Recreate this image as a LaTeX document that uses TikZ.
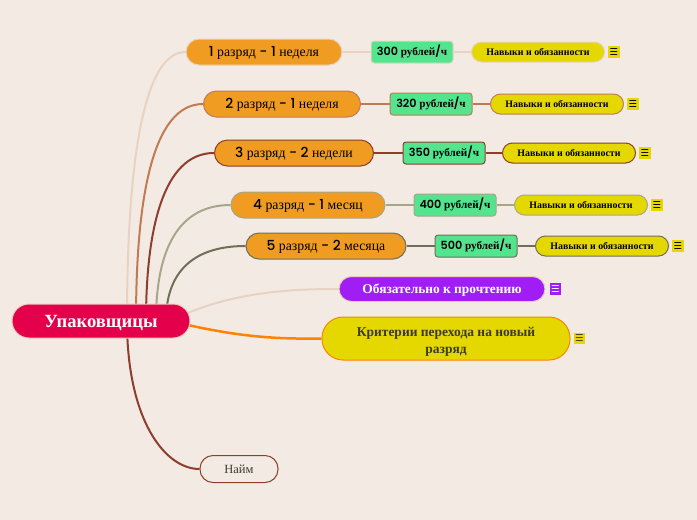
\documentclass[tikz,border=0pt]{standalone}
\usepackage{fontspec}
\setmainfont{Liberation Serif}
\newfontfamily\numfont{Poppins}[UprightFont={* Medium}, BoldFont={* SemiBold}]
\newfontfamily\symfont{DejaVu Sans}
\usetikzlibrary{positioning,backgrounds}

\definecolor{bgcream}{HTML}{F3EBE3}
\definecolor{rootred}{HTML}{E5004C}
\definecolor{roottan}{HTML}{E8CDBA}
\definecolor{lvorange}{HTML}{F09C22}
\definecolor{rategreen}{HTML}{52E58E}
\definecolor{dutyyellow}{HTML}{E5D800}
\definecolor{readpurple}{HTML}{A01EF5}
\definecolor{critorange}{HTML}{FF8200}
\definecolor{c1}{HTML}{E8D2C2}
\definecolor{c2}{HTML}{C27A55}
\definecolor{c3}{HTML}{8E3E2C}
\definecolor{c4}{HTML}{A8A68A}
\definecolor{c5}{HTML}{6E6F58}
\definecolor{darktext}{HTML}{3C3A30}

\begin{document}
\begin{tikzpicture}[x=1pt,y=-1pt,
  mid/.style={text height=#1, text depth=0pt},
  lvl/.style={draw=#1, line width=1pt, fill=lvorange, rounded corners=13pt, minimum height=26pt, inner sep=0pt, mid=8.3pt, font=\fontsize{13.8}{16}\selectfont},
  rate/.style={draw=#1, line width=1pt, fill=rategreen, rounded corners=3pt, minimum width=82pt, minimum height=22pt, inner sep=0pt, mid=7pt, font=\bfseries\fontsize{11.2}{13}\selectfont},
  duty/.style={draw=#1, line width=1pt, fill=dutyyellow, rounded corners=10pt, minimum width=133pt, minimum height=20pt, inner sep=0pt, mid=7.2pt, font=\bfseries\fontsize{9.9}{11}\selectfont},
  menu/.style={fill=#1, minimum size=11.5pt, inner sep=0pt, font=\symfont\fontsize{9.5}{9.5}\selectfont},
  branch/.style={draw=#1, line width=2pt},
  twig/.style={draw=#1, line width=1.5pt}]

% root
\node[fill=rootred, draw=roottan, line width=1pt, rounded corners=17pt, minimum width=178pt, minimum height=34pt, inner sep=0pt, mid=12pt, text=white, font=\bfseries\fontsize{18.6}{21}\selectfont] (r) at (101,321) {Упаковщицы};

% levels
\node[lvl=c1, minimum width=156pt] (1) at (264,52) {{\numfont 1} разряд {\numfont - 1} неделя};
\node[lvl=c2, minimum width=157pt] (2) at (282,104) {{\numfont 2} разряд {\numfont - 1} неделя};
\node[lvl=c3, minimum width=159pt] (3) at (294,153) {{\numfont 3} разряд {\numfont - 2} недели};
\node[lvl=c4, minimum width=154pt] (4) at (308,205) {{\numfont 4} разряд {\numfont - 1} месяц};
\node[lvl=c5, minimum width=160pt] (5) at (326,246) {{\numfont 5} разряд {\numfont - 2} месяца};

% rates
\node[rate=c1] (r1) at (412,52) {{\numfont\bfseries 300} рублей{\numfont\bfseries /}ч};
\node[rate=c2] (r2) at (431,104) {{\numfont\bfseries 320} рублей{\numfont\bfseries /}ч};
\node[rate=c3] (r3) at (444,153) {{\numfont\bfseries 350} рублей{\numfont\bfseries /}ч};
\node[rate=c4] (r4) at (455,205) {{\numfont\bfseries 400} рублей{\numfont\bfseries /}ч};
\node[rate=c5] (r5) at (476,246) {{\numfont\bfseries 500} рублей{\numfont\bfseries /}ч};

% duties
\node[duty=c1] (d1) at (538,52) {Навыки и обязанности};
\node[duty=c2] (d2) at (557,104) {Навыки и обязанности};
\node[duty=c3] (d3) at (569,153) {Навыки и обязанности};
\node[duty=c4] (d4) at (581,205) {Навыки и обязанности};
\node[duty=c5] (d5) at (602,246) {Навыки и обязанности};
\node[menu=dutyyellow, right=3pt of d1] (m1) {☰};
\node[menu=dutyyellow, right=3pt of d2] (m2) {☰};
\node[menu=dutyyellow, right=3pt of d3] (m3) {☰};
\node[menu=dutyyellow, right=3pt of d4] (m4) {☰};
\node[menu=dutyyellow, right=3pt of d5] (m5) {☰};

% other branches
\node[fill=readpurple, draw=roottan, line width=1pt, rounded corners=12.5pt, minimum width=206pt, minimum height=25pt, inner sep=0pt, mid=8.8pt, text=white, font=\bfseries\fontsize{13.4}{15}\selectfont] (read) at (442,289) {Обязательно к прочтению};
\node[menu=readpurple, text=white, right=4pt of read] (m6) {☰};
\node[fill=dutyyellow, draw=critorange, line width=1pt, rounded corners=21pt, minimum width=248pt, minimum height=43pt, inner sep=0pt, text=darktext, font=\bfseries\fontsize{13.5}{16.5}\selectfont] (crit) at (446,338.5) {\raisebox{-3pt}[\height][\depth]{\begin{tabular}{@{}c@{}}Критерии перехода на новый\\разряд\end{tabular}}};
\node[menu=dutyyellow, text=darktext, right=3pt of crit] (m7) {☰};
\node[fill=bgcream, draw=c3, line width=1pt, rounded corners=13pt, minimum width=78pt, minimum height=27pt, inner sep=0pt, mid=8.3pt, text=darktext, font=\fontsize{12.5}{14}\selectfont] (hire) at (239,469) {Найм};

\begin{scope}[on background layer]
\fill[bgcream] (0,0) rectangle (697,520);
\path[branch=c1] ([xshift=26pt]r.center) .. controls (127,180) and (140,52) .. (1.west);
\path[branch=c2] ([xshift=35pt]r.center) .. controls (136,200) and (152,104) .. (2.west);
\path[branch=c3] ([xshift=45pt]r.center) .. controls (146,230) and (163,153) .. (3.west);
\path[branch=c4] ([xshift=55pt]r.center) .. controls (156,250) and (178,205) .. (4.west);
\path[branch=c5] ([xshift=65pt]r.center) .. controls (166,275) and (190,246) .. (5.west);
\path[branch=c1] ([xshift=70pt]r.center) .. controls (230,290) and (300,289) .. (read.west);
\path[draw=critorange, line width=2.5pt] ([xshift=70pt]r.center) .. controls (240,338) and (280,339) .. (crit.west);
\path[branch=c3] ([xshift=26pt]r.center) .. controls (127,420) and (165,469) .. (hire.west);
\end{scope}

\path[twig=c1] (1) -- (r1);
\path[twig=c1] (r1) -- (d1);
\path[twig=c2] (2) -- (r2);
\path[twig=c2] (r2) -- (d2);
\path[twig=c3] (3) -- (r3);
\path[twig=c3] (r3) -- (d3);
\path[twig=c4] (4) -- (r4);
\path[twig=c4] (r4) -- (d4);
\path[twig=c5] (5) -- (r5);
\path[twig=c5] (r5) -- (d5);
\end{tikzpicture}
\end{document}
